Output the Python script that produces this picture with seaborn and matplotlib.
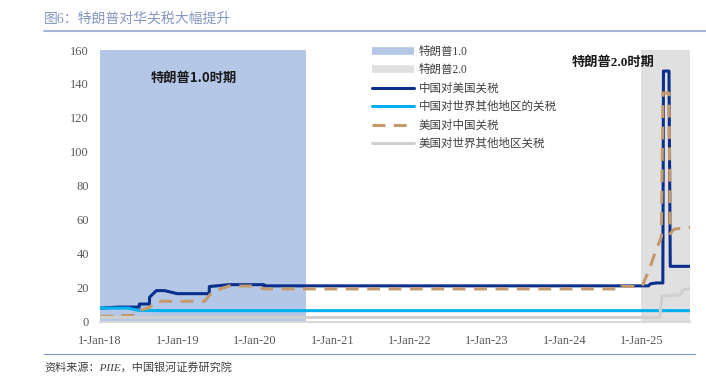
import pandas as pd
import matplotlib.pyplot as plt
from matplotlib.lines import Line2D
import seaborn as sns

# style first, fonts after (set_theme resets font.family)
sns.set_theme(style="white")
plt.rcParams['font.family'] = ['Liberation Serif', 'Noto Sans CJK SC', 'DejaVu Sans']
plt.rcParams['axes.unicode_minus'] = False

# 中国对美国关税
cn_us_dates = ['2018-01-01', '2018-04-01', '2018-07-05', '2018-07-06', '2018-08-22', '2018-08-23',
               '2018-09-24', '2018-11-01', '2019-01-01', '2019-05-31', '2019-06-01', '2019-09-01',
               '2020-02-13', '2020-02-14', '2025-01-31', '2025-02-10', '2025-03-10', '2025-04-09',
               '2025-04-12', '2025-05-08', '2025-05-14', '2025-08-15']
cn_us_vals = [8.0, 8.6, 8.6, 10.4, 10.4, 14.4, 18.3, 18.3, 16.5, 16.5, 20.7, 21.8,
              21.8, 21.1, 21.1, 22.3, 22.8, 22.8, 147.6, 147.6, 32.6, 32.6]

# 中国对世界其他地区的关税
cn_row_dates = ['2018-01-01', '2018-05-15', '2018-07-01', '2018-11-01', '2025-08-15']
cn_row_vals = [8.0, 8.0, 6.7, 6.5, 6.5]

# 美国对中国关税
us_cn_dates = ['2018-01-01', '2018-06-15', '2018-07-06', '2018-08-23', '2018-09-24', '2019-05-09',
               '2019-06-15', '2019-09-01', '2020-01-01', '2020-02-14', '2024-09-26', '2024-09-27',
               '2025-01-01', '2025-02-04', '2025-03-04', '2025-04-02', '2025-04-10', '2025-05-08',
               '2025-05-14', '2025-06-01', '2025-08-15']
us_cn_vals = [3.1, 3.8, 6.7, 8.3, 12.0, 12.0, 17.5, 21.0, 21.0, 19.3, 19.3, 20.8,
              20.8, 30.8, 40.8, 50.0, 134.7, 134.7, 51.8, 54.5, 55.6]

# 美国对世界其他地区关税
us_row_dates = ['2018-01-01', '2025-03-25', '2025-04-05', '2025-06-30', '2025-07-15', '2025-08-15']
us_row_vals = [2.5, 2.5, 15.0, 15.8, 18.8, 19.5]

# 特朗普任期阴影
trump1_span = ['2018-01-01', '2020-08-28']
trump2_span = ['2024-12-28', '2025-08-15']

tick_dates = ['2018-01-01', '2019-01-01', '2020-01-01', '2021-01-01',
              '2022-01-01', '2023-01-01', '2024-01-01', '2025-01-01']
tick_labels = ['1-Jan-18', '1-Jan-19', '1-Jan-20', '1-Jan-21',
               '1-Jan-22', '1-Jan-23', '1-Jan-24', '1-Jan-25']
y_ticks = [0, 20, 40, 60, 80, 100, 120, 140, 160]

c_navy = '#0b2f8c'
c_sky = '#00b0f0'
c_tan = '#c49a6c'
c_grey = '#cfcfcf'
c_t1 = '#b4c7e7'
c_t2 = '#e0e0e0'


def to_df(dates, vals):
    return pd.DataFrame({'date': pd.to_datetime(dates), 'value': vals})


fig = plt.figure(figsize=(7.06, 3.82), dpi=100)
ax = fig.add_axes([0.1416, 0.1579, 0.8357, 0.7112])

# shaded periods
ax.axvspan(pd.Timestamp(trump1_span[0]), pd.Timestamp(trump1_span[1]), color=c_t1, lw=0, zorder=0)
ax.axvspan(pd.Timestamp(trump2_span[0]), pd.Timestamp(trump2_span[1]), color=c_t2, lw=0, zorder=0)

lw = 2.2
sns.lineplot(data=to_df(cn_us_dates, cn_us_vals), x='date', y='value', ax=ax, color=c_navy,
             lw=lw, estimator=None, sort=False, solid_joinstyle='round')
sns.lineplot(data=to_df(cn_row_dates, cn_row_vals), x='date', y='value', ax=ax, color=c_sky,
             lw=lw, estimator=None, sort=False)
sns.lineplot(data=to_df(us_cn_dates, us_cn_vals), x='date', y='value', ax=ax, color=c_tan,
             lw=lw, estimator=None, sort=False, linestyle=(0, (4.2, 2.8)))
sns.lineplot(data=to_df(us_row_dates, us_row_vals), x='date', y='value', ax=ax, color=c_grey,
             lw=lw, estimator=None, sort=False)

ax.set_xlim(pd.Timestamp('2018-01-01'), pd.Timestamp('2025-08-15'))
ax.set_ylim(0, 160)
ax.set_xticks(pd.to_datetime(tick_dates))
ax.set_xticklabels(tick_labels)
ax.set_yticks(y_ticks)
ax.set_xlabel('')
ax.set_ylabel('')
ax.tick_params(axis='both', length=0, labelsize=9, labelcolor='#595959')
ax.tick_params(axis='x', pad=9.5)
ax.tick_params(axis='y', pad=8)
for s in ['top', 'right', 'left']:
    ax.spines[s].set_visible(False)
ax.spines['bottom'].set_color('#d9d9d9')
ax.spines['bottom'].set_linewidth(1.5)
ax.grid(False)

# period labels
ax.text(pd.Timestamp('2019-03-18'), 143.5, '特朗普1.0时期', ha='center', va='center',
        fontsize=9.5, fontweight='bold', color='#1a1a1a', family=['Noto Sans CJK SC'])
ax.text(pd.Timestamp('2024-08-17'), 152.5, '特朗普2.0时期', ha='center', va='center',
        fontsize=9.5, fontweight='bold', color='#1a1a1a',
        family=['Liberation Serif', 'Noto Sans CJK SC'])

# legend
handles = [
    Line2D([], [], color=c_t1, lw=5.5, solid_capstyle='butt'),
    Line2D([], [], color=c_t2, lw=5.5, solid_capstyle='butt'),
    Line2D([], [], color=c_navy, lw=lw),
    Line2D([], [], color=c_sky, lw=lw),
    Line2D([], [], color=c_tan, lw=lw, linestyle=(0, (4.2, 2.8))),
    Line2D([], [], color=c_grey, lw=lw),
]
labels = ['特朗普1.0', '特朗普2.0', '中国对美国关税', '中国对世界其他地区的关税',
          '美国对中国关税', '美国对世界其他地区关税']
leg = fig.legend(handles, labels, loc='upper left', bbox_to_anchor=(0.527, 0.880),
                 frameon=False, fontsize=8.3, handlelength=3.6, handletextpad=0.45,
                 labelspacing=0.56, borderpad=0, borderaxespad=0)
for t in leg.get_texts():
    t.set_color('#404040')

# title and frame lines
fig.text(0.0623, 0.950, '图6：特朗普对华关税大幅提升', fontsize=10, color='#8497c2',
         ha='left', va='center')
fig.add_artist(Line2D([0.0623, 1.0], [0.9188, 0.9188], transform=fig.transFigure,
                      color='#a7b6d6', lw=1.5))
fig.add_artist(Line2D([0.0623, 0.984], [0.0733, 0.0733], transform=fig.transFigure,
                      color='#7d94c9', lw=0.8))
fig.text(0.0623, 0.039, '资料来源：PIIE，中国银河证券研究院', fontsize=8, color='#404040',
         style='italic', ha='left', va='center')

fig.savefig('out.png', dpi=100)
